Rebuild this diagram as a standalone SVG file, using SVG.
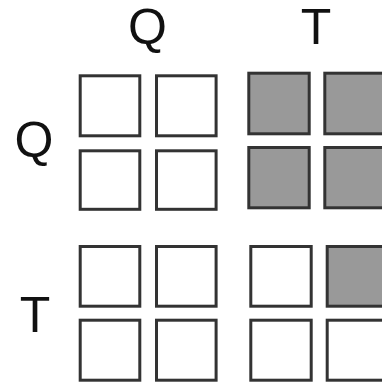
<svg xmlns="http://www.w3.org/2000/svg" width="382" height="384" viewBox="0 0 382 384">
<style>
.lbl{font-family:"Liberation Sans",Arial,sans-serif;font-size:50px;fill:#111;text-anchor:middle}
.w{fill:#fff;stroke:#333;stroke-width:3}
.g{fill:#999;stroke:#333;stroke-width:3}
</style>
<rect width="382" height="384" fill="#fff"/>
<g id="labels">
<text class="lbl" x="147.5" y="44">Q</text>
<text class="lbl" x="316" y="44">T</text>
<text class="lbl" x="34" y="157">Q</text>
<text class="lbl" x="35" y="332">T</text>
</g>
<g id="block-QQ">
<rect class="w" x="80.2" y="75.8" width="59.6" height="60"/>
<rect class="w" x="156.5" y="75.8" width="59.6" height="60"/>
<rect class="w" x="80.2" y="150.8" width="59.6" height="58.5"/>
<rect class="w" x="156.5" y="150.8" width="59.6" height="58.5"/>
</g>
<g id="block-QT">
<rect class="g" x="248.8" y="73.2" width="60.4" height="60.6"/>
<rect class="g" x="324.8" y="73.2" width="60.4" height="60.6"/>
<rect class="g" x="248.8" y="147.5" width="60.4" height="60.3"/>
<rect class="g" x="324.8" y="147.5" width="60.4" height="60.3"/>
</g>
<g id="block-TQ">
<rect class="w" x="80.2" y="246.5" width="59.6" height="59.7"/>
<rect class="w" x="156.5" y="246.5" width="59.6" height="59.7"/>
<rect class="w" x="80.2" y="320.2" width="59.6" height="60"/>
<rect class="w" x="156.5" y="320.2" width="59.6" height="60"/>
</g>
<g id="block-TT">
<rect class="w" x="250.8" y="246.5" width="60.4" height="59.7"/>
<rect class="g" x="327.2" y="246.5" width="60.4" height="59.7"/>
<rect class="w" x="250.8" y="320.2" width="60.4" height="60"/>
<rect class="w" x="327.2" y="320.2" width="60.4" height="60"/>
</g>
<g id="connectors"/>
</svg>
